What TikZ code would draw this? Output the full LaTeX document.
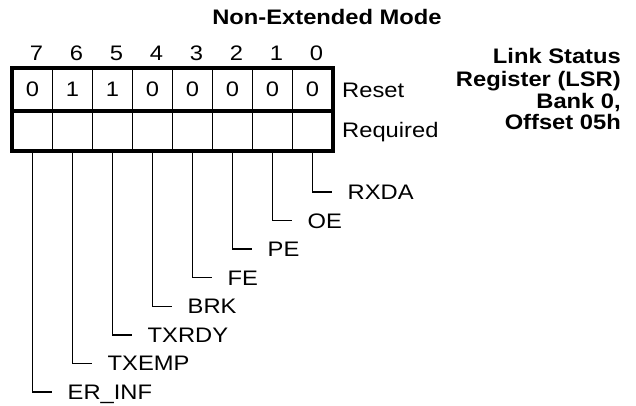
\documentclass[tikz,border=0pt]{standalone}
\usepackage{fontspec}
\setmainfont{Liberation Sans}[FakeStretch=1.13]
\begin{document}
\begin{tikzpicture}[x=1pt,y=-1pt,
  txt/.style={font=\fontsize{21}{25}\selectfont, inner sep=0pt},
  btxt/.style={font=\fontsize{21}{25}\selectfont\bfseries, inner sep=0pt},
  cell/.style={draw, line width=1.5pt, minimum width=40pt, inner sep=0pt, txt, text height=15pt, text depth=0pt},
  lbl/.style={txt, anchor=west, text height=15pt, text depth=0pt},
  leader/.style={line width=1.3pt},
  thickb/.style={line width=4pt}]
\useasboundingbox (0,0) rectangle (636,406);
% title
\node[btxt, anchor=base] (title) at (327,25) {Non-Extended Mode};
% register cells
\foreach \b/\v [count=\i from 0] in {7/0,6/1,5/1,4/0,3/0,2/0,1/0,0/0} {
  \node[txt, anchor=base] (h\b) at ({36.5+40*\i},61) {\b};
  \node[cell, minimum height=41.5pt] (v\b) at ({32.5+40*\i},89.25) {\v};
  \node[cell, minimum height=40pt] (r\b) at ({32.5+40*\i},130) {};
}
\draw[thickb] (v7.north west) rectangle (r0.south east);
\draw[thickb] (v7.south west) -- (v0.south east);
% row labels
\node[txt, anchor=base west] (reset) at (342,98) {Reset};
\node[txt, anchor=base west] (required) at (342,138) {Required};
% register name
\node[btxt, anchor=base east] (n1) at (621,64) {Link Status};
\node[btxt, anchor=base east] (n2) at (621,86.5) {Register (LSR)};
\node[btxt, anchor=base east] (n3) at (621,108.5) {Bank 0,};
\node[btxt, anchor=base east] (n4) at (621,130) {Offset 05h};
% bit labels and leaders
\foreach \b/\t [count=\i from 0] in {7/ER\_INF,6/TXEMP,5/TXRDY,4/BRK,3/FE,2/PE,1/OE,0/RXDA} {
  \node[lbl] (l\b) at ({67.5+40*\i},{192+28.57*\b}) {\t};
  \draw[leader] (r\b.south) |- ([xshift=-16pt]l\b.west);
}
\end{tikzpicture}
\end{document}
